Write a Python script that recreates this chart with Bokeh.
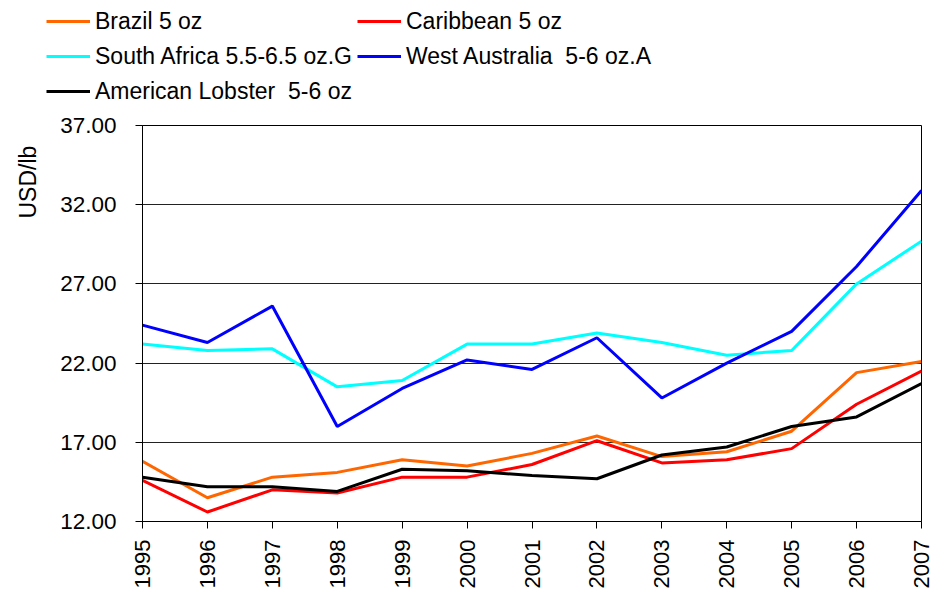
import math
from bokeh.plotting import figure
from bokeh.layouts import column, row
from bokeh.models import (FixedTicker, NumeralTickFormatter, Legend, LegendItem,
                          Label, Range1d)
from bokeh.embed import file_html
from bokeh.resources import INLINE

years = [1995, 1996, 1997, 1998, 1999, 2000, 2001, 2002, 2003, 2004, 2005, 2006, 2007]
brazil = [15.8, 13.5, 14.8, 15.1, 15.9, 15.5, 16.3, 17.4, 16.1, 16.4, 17.7, 21.4, 22.1]
caribbean = [14.6, 12.6, 14.0, 13.8, 14.8, 14.8, 15.6, 17.1, 15.7, 15.9, 16.6, 19.4, 21.5]
south_africa = [23.2, 22.8, 22.9, 20.5, 20.9, 23.2, 23.2, 23.9, 23.3, 22.5, 22.8, 27.0, 29.7]
west_australia = [24.4, 23.3, 25.6, 18.0, 20.4, 22.2, 21.6, 23.6, 19.8, 22.0, 24.0, 28.1, 32.9]
american = [14.8, 14.2, 14.2, 13.9, 15.3, 15.2, 14.9, 14.7, 16.2, 16.7, 18.0, 18.6, 20.7]

y_ticks = [12, 17, 22, 27, 32, 37]

series = [
    ("Brazil 5 oz", brazil, "#FF6600"),
    ("Caribbean 5 oz", caribbean, "#FF0000"),
    ("South Africa 5.5-6.5 oz.G", south_africa, "#00FFFF"),
    ("West Australia  5-6 oz.A", west_australia, "#0000FF"),
    ("American Lobster  5-6 oz", american, "#000000"),
]

FONT = "Liberation Sans"

W, H = 933, 593
LEFT, TOP, RIGHT, BOTTOM = 142, 125, 921, 521   # frame edges in pixels
SPLIT = 110      # height of the legend strip
LABW = 50        # width of the strip holding the y title

# ---------- legend strip ----------
# the strip's own ranges keep its copies of the series out of view; only the legend shows
top = figure(width=W, height=SPLIT, output_backend="svg", toolbar_location=None,
             x_range=Range1d(0, 1), y_range=Range1d(0, 1),
             x_axis_type=None, y_axis_type=None, min_border=0)
top.outline_line_color = None
top.background_fill_color = "white"
top.border_fill_color = "white"
top.xgrid.visible = False
top.ygrid.visible = False

items = []
for name, vals, color in series:
    r = top.line(years, vals, line_color=color, line_width=3)
    items.append(LegendItem(label=name, renderers=[r]))

legend = Legend(items=items, location=(46, SPLIT - 106), orientation="horizontal", ncols=2,
                label_text_font=FONT, label_text_font_size="23px",
                label_text_color="black",
                glyph_width=44, glyph_height=30, label_height=30,
                label_standoff=5, spacing=5, padding=0, margin=0,
                border_line_color=None, background_fill_alpha=0)
top.add_layout(legend, "center")

# ---------- y title strip ----------
MH = H - SPLIT
lab = figure(width=LABW, height=MH, output_backend="svg", toolbar_location=None,
             x_range=Range1d(0, LABW), y_range=Range1d(0, MH),
             x_axis_type=None, y_axis_type=None, min_border=0)
lab.outline_line_color = None
lab.xgrid.visible = False
lab.ygrid.visible = False
lab.add_layout(Label(x=27, y=MH - (179 - SPLIT), text="USD/lb", angle=math.pi / 2,
                     text_align="center", text_baseline="middle",
                     text_font=FONT, text_font_size="23px", text_color="black"))

# ---------- main chart ----------
p = figure(width=W - LABW, height=MH, output_backend="svg", toolbar_location=None,
           x_range=Range1d(years[0], years[-1]), y_range=Range1d(y_ticks[0], y_ticks[-1]),
           min_border_left=LEFT - LABW, min_border_right=W - RIGHT,
           min_border_top=TOP - SPLIT, min_border_bottom=H - BOTTOM)

p.outline_line_color = "black"
p.outline_line_width = 1
p.background_fill_color = "white"
p.border_fill_color = "white"

p.xgrid.visible = False
p.ygrid.ticker = FixedTicker(ticks=y_ticks)
p.ygrid.grid_line_color = "#222222"
p.ygrid.grid_line_width = 1

xa = p.xaxis[0]
xa.ticker = FixedTicker(ticks=years)
xa.major_label_orientation = math.pi / 2
xa.major_label_text_font = FONT
xa.major_label_text_font_size = "22px"
xa.major_label_text_color = "black"
xa.major_label_standoff = 11
xa.major_tick_in = 0
xa.major_tick_out = 7
xa.minor_tick_out = 0
xa.minor_tick_in = 0
xa.axis_line_color = "black"
xa.major_tick_line_color = "black"

ya = p.yaxis[0]
ya.ticker = FixedTicker(ticks=y_ticks)
ya.formatter = NumeralTickFormatter(format="0.00")
ya.major_label_text_font = FONT
ya.major_label_text_font_size = "22.5px"
ya.major_label_text_color = "black"
ya.major_label_standoff = 19
ya.major_tick_in = 0
ya.major_tick_out = 7
ya.minor_tick_out = 0
ya.minor_tick_in = 0
ya.axis_line_color = "black"
ya.major_tick_line_color = "black"

for name, vals, color in series:
    p.line(years, vals, line_color=color, line_width=3)

layout = column(top, row(lab, p, spacing=0), spacing=0)

open("out.html", "w").write(file_html(layout, INLINE))
